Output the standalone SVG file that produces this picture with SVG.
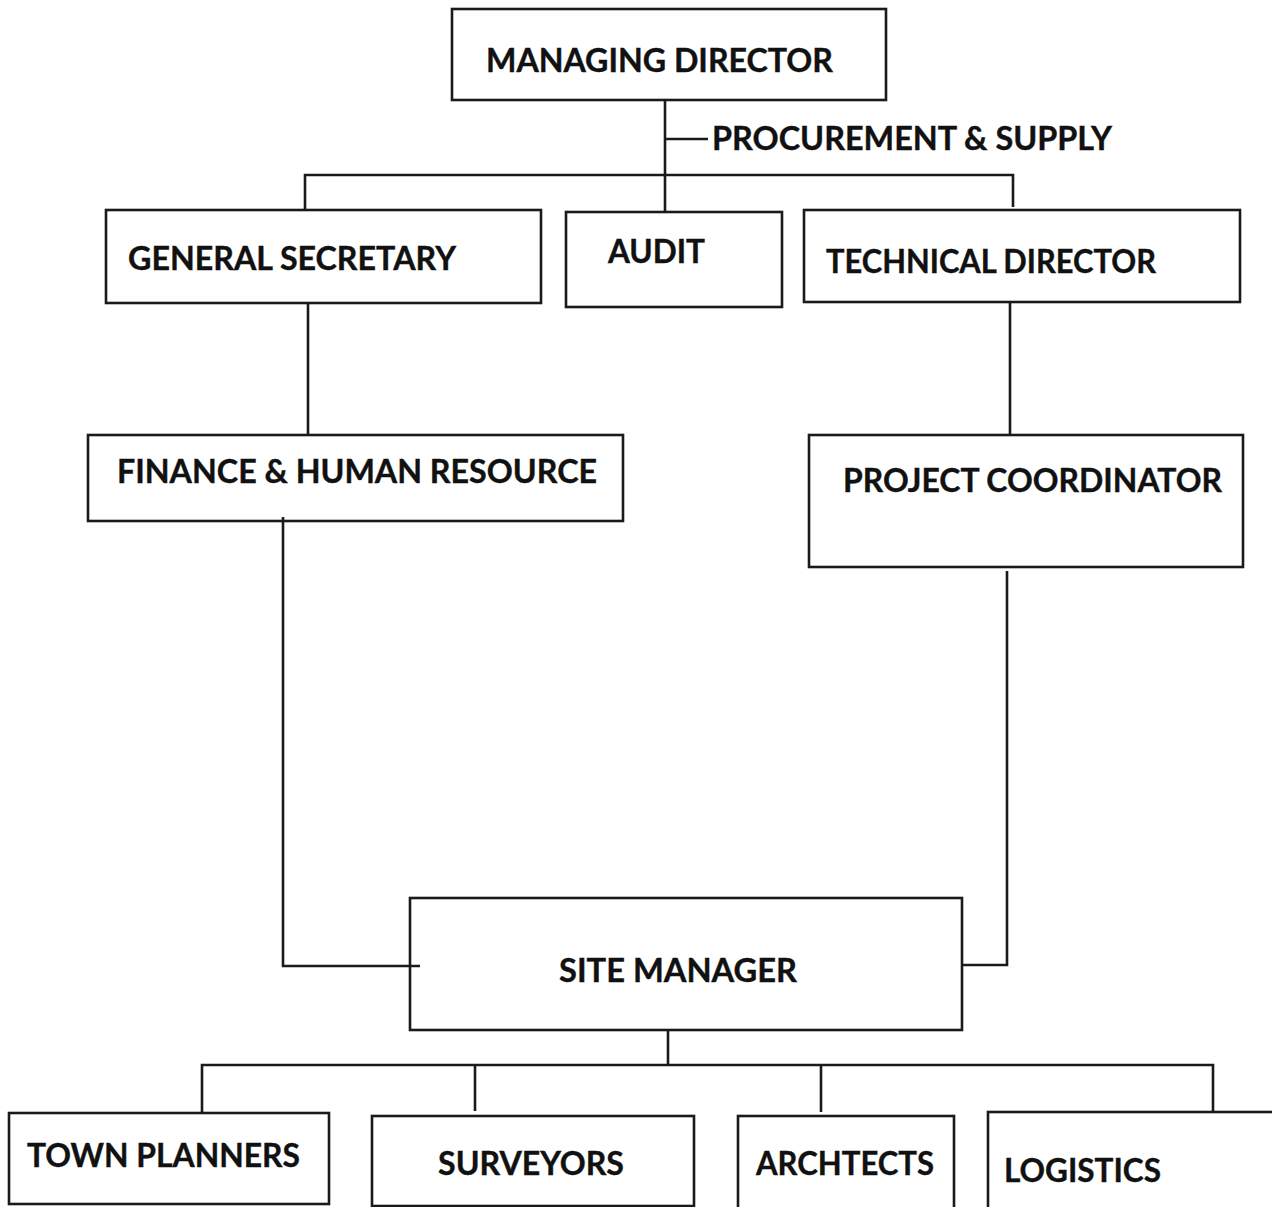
<svg xmlns="http://www.w3.org/2000/svg" width="1272" height="1207" viewBox="0 0 1272 1207">
<style>
.box{fill:#fff;stroke:#1a1a1a;stroke-width:2.6}
.c{fill:none;stroke:#1a1a1a;stroke-width:2.6}
text{font-family:Lato,"Open Sans","Liberation Sans",sans-serif;font-weight:bold;font-size:33px;fill:#111;stroke:#111;stroke-width:0.4}
</style>
<rect width="1272" height="1207" fill="#fff"/>
<g id="managing-director"><rect class="box" x="452" y="9" width="434" height="91"/><text x="486" y="72" textLength="347" lengthAdjust="spacingAndGlyphs">MANAGING DIRECTOR</text></g>
<g id="procurement"><text x="712" y="150" textLength="400" lengthAdjust="spacingAndGlyphs">PROCUREMENT &amp; SUPPLY</text></g>
<g id="general-secretary"><rect class="box" x="106" y="210" width="435" height="93"/><text x="128" y="270" textLength="328" lengthAdjust="spacingAndGlyphs">GENERAL SECRETARY</text></g>
<g id="audit"><rect class="box" x="566" y="212" width="216" height="95"/><text x="608" y="263" textLength="97" lengthAdjust="spacingAndGlyphs">AUDIT</text></g>
<g id="technical-director"><rect class="box" x="804" y="210" width="436" height="92"/><text x="826" y="273" textLength="330" lengthAdjust="spacingAndGlyphs">TECHNICAL DIRECTOR</text></g>
<g id="finance"><rect class="box" x="88" y="435" width="535" height="86"/><text x="117" y="483" textLength="480" lengthAdjust="spacingAndGlyphs">FINANCE &amp; HUMAN RESOURCE</text></g>
<g id="project-coordinator"><rect class="box" x="809" y="435" width="434" height="132"/><text x="843" y="492" textLength="379" lengthAdjust="spacingAndGlyphs">PROJECT COORDINATOR</text></g>
<g id="site-manager"><rect class="box" x="410" y="898" width="552" height="132"/><text x="559" y="982" textLength="238" lengthAdjust="spacingAndGlyphs">SITE MANAGER</text></g>
<g id="town-planners"><rect class="box" x="9" y="1113" width="320" height="91"/><text x="27" y="1167" textLength="273" lengthAdjust="spacingAndGlyphs">TOWN PLANNERS</text></g>
<g id="surveyors"><rect class="box" x="372" y="1116" width="322" height="90"/><text x="438" y="1175" textLength="186" lengthAdjust="spacingAndGlyphs">SURVEYORS</text></g>
<g id="architects"><rect class="box" x="738" y="1116" width="216" height="100"/><text x="756" y="1175" textLength="178" lengthAdjust="spacingAndGlyphs">ARCHTECTS</text></g>
<g id="logistics"><rect class="box" x="988" y="1112" width="300" height="104"/><text x="1004" y="1182" textLength="157" lengthAdjust="spacingAndGlyphs">LOGISTICS</text></g>
<g id="connectors">
<path class="c" d="M665,100 V212"/>
<path class="c" d="M665,139 H708"/>
<path class="c" d="M305,210 V175 H1013 V207"/>
<path class="c" d="M308,303 V435"/>
<path class="c" d="M1010,302 V435"/>
<path class="c" d="M283,517 V966 H420"/>
<path class="c" d="M1007,571 V965 H963"/>
<path class="c" d="M668,1030 V1065"/>
<path class="c" d="M202,1113 V1065 H1213 V1112"/>
<path class="c" d="M475,1065 V1111"/>
<path class="c" d="M821,1065 V1112"/>
</g>
</svg>
